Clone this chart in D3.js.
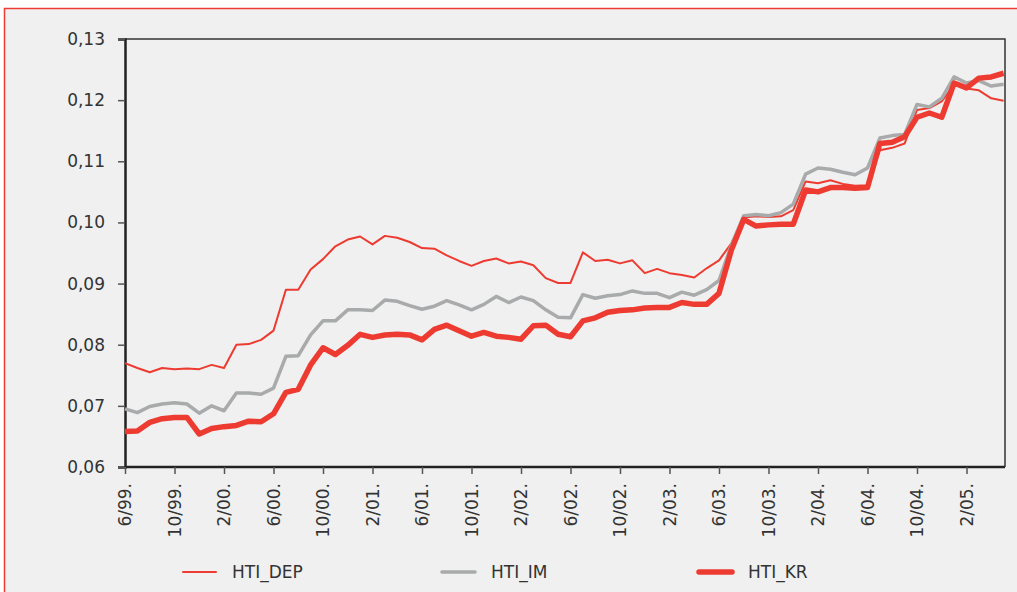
<!DOCTYPE html>
<html>
<head>
<meta charset="utf-8">
<script src="https://cdn.jsdelivr.net/npm/d3@7"></script>
<style>
  body { margin: 0; background: #fff; }
  svg { display: block; }
  svg text { font-family: "DejaVu Sans", sans-serif; }
</style>
</head>
<body>
<div id="chart"></div>
<script>
// monthly, 6/99 .. 5/05
var startYear = 1999, startMonth = 6;

var hti_dep = [0.0770, 0.0762, 0.0755, 0.0762, 0.0760, 0.0761, 0.0760, 0.0767, 0.0762, 0.0800,
  0.0801, 0.0808, 0.0823, 0.0890, 0.0890, 0.0923, 0.0940, 0.0961, 0.0972, 0.0977,
  0.0964, 0.0978, 0.0975, 0.0968, 0.0958, 0.0957, 0.0946, 0.0937, 0.0929, 0.0937,
  0.0941, 0.0933, 0.0936, 0.0930, 0.0909, 0.0901, 0.0901, 0.0951, 0.0937, 0.0939,
  0.0933, 0.0938, 0.0917, 0.0924, 0.0917, 0.0914, 0.0910, 0.0925, 0.0938, 0.0966,
  0.1008, 0.1010, 0.1009, 0.1010, 0.1020, 0.1067, 0.1064, 0.1069, 0.1063, 0.1060,
  0.1061, 0.1118, 0.1122, 0.1129, 0.1184, 0.1187, 0.1198, 0.1225, 0.1219, 0.1216,
  0.1203, 0.1199];

var hti_im = [0.0695, 0.0689, 0.0699, 0.0703, 0.0705, 0.0703, 0.0688, 0.0700, 0.0692, 0.0721,
  0.0721, 0.0719, 0.0729, 0.0781, 0.0782, 0.0816, 0.0839, 0.0839, 0.0857, 0.0857,
  0.0856, 0.0873, 0.0871, 0.0864, 0.0858, 0.0863, 0.0872, 0.0865, 0.0857, 0.0866,
  0.0879, 0.0869, 0.0878, 0.0872, 0.0857, 0.0845, 0.0844, 0.0882, 0.0876, 0.0880,
  0.0882, 0.0888, 0.0884, 0.0884, 0.0877, 0.0886, 0.0881, 0.0890, 0.0905, 0.0963,
  0.1011, 0.1013, 0.1011, 0.1016, 0.1030, 0.1079, 0.1089, 0.1087, 0.1082, 0.1078,
  0.1089, 0.1138, 0.1142, 0.1144, 0.1193, 0.1189, 0.1203, 0.1238, 0.1228, 0.1232,
  0.1223, 0.1226];

var hti_kr = [0.0658, 0.0659, 0.0673, 0.0679, 0.0681, 0.0681, 0.0654, 0.0663, 0.0666, 0.0668,
  0.0675, 0.0674, 0.0687, 0.0722, 0.0727, 0.0767, 0.0795, 0.0784, 0.0799, 0.0817,
  0.0812, 0.0816, 0.0817, 0.0816, 0.0808, 0.0825, 0.0832, 0.0823, 0.0814, 0.0820,
  0.0814, 0.0812, 0.0809, 0.0831, 0.0832, 0.0817, 0.0813, 0.0839, 0.0844, 0.0853,
  0.0856, 0.0857, 0.0860, 0.0861, 0.0861, 0.0869, 0.0866, 0.0866, 0.0884, 0.0955,
  0.1005, 0.0994, 0.0996, 0.0997, 0.0997, 0.1053, 0.1050, 0.1057, 0.1057, 0.1056,
  0.1057, 0.1129, 0.1131, 0.1140, 0.1172, 0.1179, 0.1172, 0.1228, 0.1220, 0.1236,
  0.1238, 0.1244];

var yTicks = [0.06, 0.07, 0.08, 0.09, 0.10, 0.11, 0.12, 0.13];

var series = [
  {name: "HTI_DEP", values: hti_dep, color: "#ee3b31", width: 2},
  {name: "HTI_IM", values: hti_im, color: "#a9aaab", width: 3.5},
  {name: "HTI_KR", values: hti_kr, color: "#ee3b31", width: 5.5}
];

var width = 1017, height = 592;
var m = {left: 125, top: 39, right: 1005, bottom: 467};

var svg = d3.select("#chart").append("svg")
  .attr("width", width)
  .attr("height", height);

// panel
svg.append("rect")
  .attr("x", 4.5).attr("y", 8.5)
  .attr("width", width + 20).attr("height", height + 20)
  .attr("fill", "#eff0ef")
  .attr("stroke", "#ee3b31")
  .attr("stroke-width", 1.5);

var n = hti_dep.length;
var x = d3.scaleLinear().domain([0, n - 1]).range([m.left, m.left + 12.375 * (n - 1)]);
var y = d3.scaleLinear().domain([0.06, 0.13]).range([m.bottom, m.top]);

// frame top/right
svg.append("path")
  .attr("d", "M" + m.left + "," + m.top + "H" + m.right + "V" + m.bottom)
  .attr("fill", "none")
  .attr("stroke", "#333")
  .attr("stroke-width", 1.5);

var fmt = function(d) { return d3.format(".2f")(d).replace(".", ","); };

var yAxis = svg.append("g")
  .attr("transform", "translate(" + m.left + ",0)")
  .call(d3.axisLeft(y).tickValues(yTicks).tickFormat(fmt).tickSize(7).tickPadding(13));

var xTicks = d3.range(0, n, 4);
var monthLabel = function(i) {
  var mo = (startMonth - 1 + i) % 12 + 1;
  var yr = startYear + Math.floor((startMonth - 1 + i) / 12);
  return mo + "/" + String(yr % 100).padStart(2, "0") + ".";
};

var xAxis = svg.append("g")
  .attr("transform", "translate(0," + m.bottom + ")")
  .call(d3.axisBottom(x).tickValues(xTicks).tickFormat(monthLabel).tickSize(7).tickSizeOuter(0));

xAxis.select(".domain").attr("d", "M" + m.left + ",0H" + m.right);

xAxis.selectAll("text")
  .attr("transform", "rotate(-90)")
  .attr("x", -16).attr("y", 0).attr("dy", "0.35em")
  .style("text-anchor", "end");

[yAxis, xAxis].forEach(function(g) {
  g.attr("font-family", "DejaVu Sans").attr("font-size", 17);
  g.selectAll("text").attr("fill", "#333");
  g.selectAll(".tick line").attr("stroke", "#555").attr("stroke-width", 1.5);
  g.select(".domain").attr("stroke", "#222").attr("stroke-width", 2.5);
});

var line = d3.line()
  .x(function(d, i) { return x(i); })
  .y(function(d) { return y(d); });

series.forEach(function(s) {
  svg.append("path")
    .datum(s.values)
    .attr("d", line)
    .attr("fill", "none")
    .attr("stroke", s.color)
    .attr("stroke-width", s.width)
    .attr("stroke-linejoin", "round");
});

// legend
var legX = [183, 442, 699];
var leg = svg.selectAll(".leg").data(series).enter().append("g")
  .attr("class", "leg")
  .attr("transform", function(d, i) { return "translate(" + legX[i] + ",572)"; });
leg.append("line")
  .attr("x1", 0).attr("x2", 33)
  .attr("stroke", function(d) { return d.color; })
  .attr("stroke-width", function(d) { return d.width; })
  .attr("stroke-linecap", "round");
leg.append("text")
  .attr("x", 49).attr("dy", "0.35em")
  .attr("font-size", 17).attr("fill", "#333")
  .text(function(d) { return d.name; });
</script>
</body>
</html>
